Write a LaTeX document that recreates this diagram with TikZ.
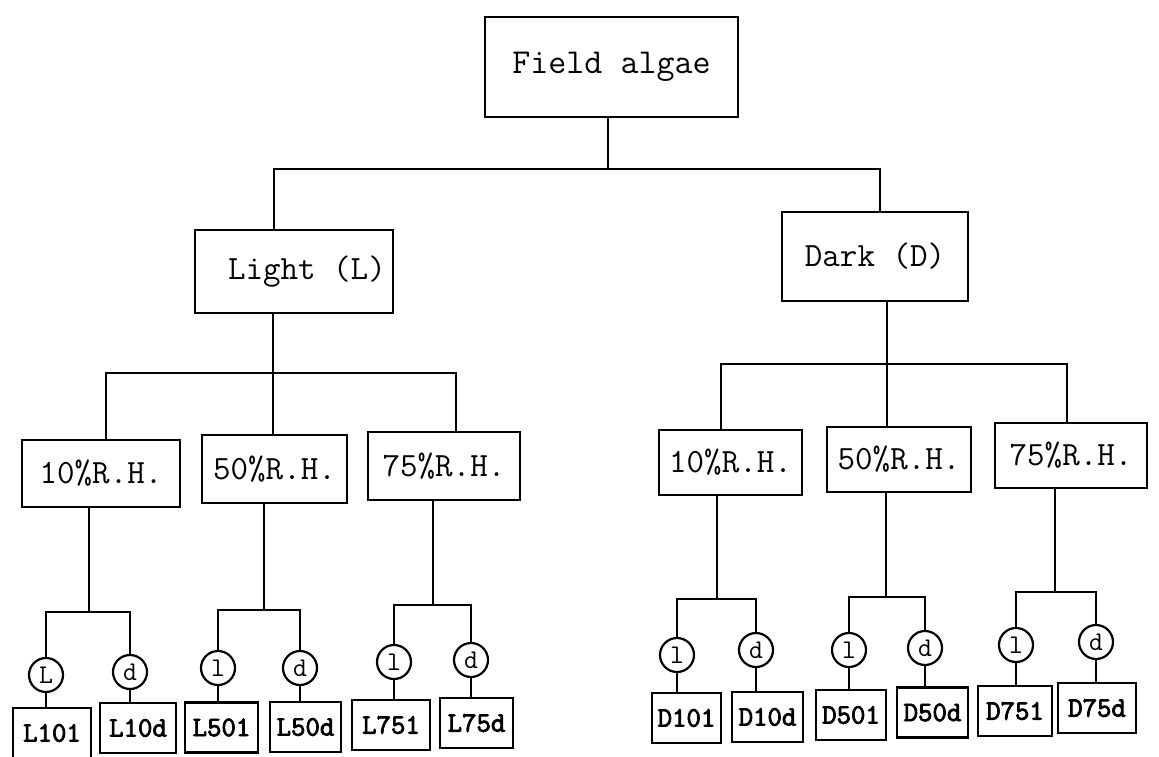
\documentclass[tikz,border=0pt]{standalone}
\usepackage{fontspec}
\newfontfamily\leaffont[FakeBold=3]{Latin Modern Mono}

\tikzset{
    box/.style={draw, line width=2.6pt, inner sep=0pt,
        font=\ttfamily\fontsize{34}{34}\selectfont},
    leaf/.style={draw, line width=2.6pt, inner sep=0pt,
        minimum height=50, font=\leaffont\fontsize{28}{28}\selectfont},
    ring/.style={draw, circle, line width=2.2pt, minimum size=34, inner sep=0pt,
        font=\ttfamily\fontsize{27}{27}\selectfont},
    link/.style={line width=2.2pt}
}

\begin{document}
\begin{tikzpicture}[x=1pt, y=-1pt]
    \useasboundingbox (0,0) rectangle (1159,757);
    \node[box, minimum width=253, minimum height=100, font=\ttfamily\fontsize{35}{35}\selectfont] (fa) at (611.5,67) {Field algae};
    \node[box, minimum width=198, minimum height=83] (light) at (294,271.5) {\hspace{26pt}Light (L)};
    \node[box, minimum width=186, minimum height=89] (dark) at (875,256.5) {Dark (D)};
    \coordinate (b0) at (608,169);
    \coordinate (b1) at (274,169);
    \coordinate (b2) at (880,169);
    \draw[link] (fa.south -| b0) -- (b0);
    \draw[link] (light.north -| b1) -- (b1) -- (b2) -- (dark.north -| b2);

    \node[box, minimum width=158, minimum height=67] (l10) at (101,473.5) {10\%R.H.};
    \node[box, minimum width=145, minimum height=68] (l50) at (274.5,469) {50\%R.H.};
    \node[box, minimum width=152, minimum height=68] (l75) at (444,466) {75\%R.H.};
    \coordinate (b3) at (273,373);
    \coordinate (b4) at (106,373);
    \coordinate (b5) at (456,373);
    \draw[link] (light.south -| b3) -- (b3);
    \draw[link] (l10.north -| b4) -- (b4) -- (b5) -- (l75.north -| b5);
    \draw[link] (l50.north -| b3) -- (b3);

    \node[box, minimum width=143, minimum height=65] (d10) at (730.5,462.5) {10\%R.H.};
    \node[box, minimum width=144, minimum height=65] (d50) at (899,459.5) {50\%R.H.};
    \node[box, minimum width=152, minimum height=65] (d75) at (1071,455.5) {75\%R.H.};
    \coordinate (b6) at (887,364);
    \coordinate (b7) at (721,364);
    \coordinate (b8) at (1067,364);
    \draw[link] (dark.south -| b6) -- (b6);
    \draw[link] (d10.north -| b7) -- (b7) -- (b8) -- (d75.north -| b8);
    \draw[link] (d50.north -| b6) -- (b6);

    \node[ring] (l10l) at (46,675) {L};
    \node[ring] (l10d) at (130,672) {d};
    \node[ring] (l50l) at (218,668) {l};
    \node[ring] (l50d) at (300,668) {d};
    \node[ring] (l75l) at (394,662) {l};
    \node[ring] (l75d) at (471,660) {d};
    \node[ring] (d10l) at (677,655) {l};
    \node[ring] (d10d) at (756,650) {d};
    \node[ring] (d50l) at (849,650) {l};
    \node[ring] (d50d) at (925,648) {d};
    \node[ring] (d75l) at (1016,645) {l};
    \node[ring] (d75d) at (1096,642) {d};

    \coordinate (j1) at (89,612);
    \coordinate (j2) at (264,610);
    \coordinate (j3) at (433,605);
    \coordinate (j4) at (717,599);
    \coordinate (j5) at (886,597);
    \coordinate (j6) at (1055,592);
    \draw[link] (l10.south -| j1) -- (j1);
    \draw[link] (l10l.north) |- (j1) -| (l10d.north);
    \draw[link] (l50.south -| j2) -- (j2);
    \draw[link] (l50l.north) |- (j2) -| (l50d.north);
    \draw[link] (l75.south -| j3) -- (j3);
    \draw[link] (l75l.north) |- (j3) -| (l75d.north);
    \draw[link] (d10.south -| j4) -- (j4);
    \draw[link] (d10l.north) |- (j4) -| (d10d.north);
    \draw[link] (d50.south -| j5) -- (j5);
    \draw[link] (d50l.north) |- (j5) -| (d50d.north);
    \draw[link] (d75.south -| j6) -- (j6);
    \draw[link] (d75l.north) |- (j6) -| (d75d.north);

    \node[leaf, minimum width=78] (L10l) at (52,733) {L101};
    \node[leaf, minimum width=76] (L10d) at (138,728) {L10d};
    \node[leaf, minimum width=73] (L50l) at (221.5,727.5) {L501};
    \node[leaf, minimum width=71] (L50d) at (305.5,727) {L50d};
    \node[leaf, minimum width=78] (L75l) at (391,725) {L751};
    \node[leaf, minimum width=73] (L75d) at (476.5,723) {L75d};
    \node[leaf, minimum width=69] (D10l) at (686.5,718) {D101};
    \node[leaf, minimum width=71] (D10d) at (767.5,717) {D10d};
    \node[leaf, minimum width=70] (D50l) at (851,715) {D501};
    \node[leaf, minimum width=71] (D50d) at (932.5,712.5) {D50d};
    \node[leaf, minimum width=74] (D75l) at (1015,711) {D751};
    \node[leaf, minimum width=78] (D75d) at (1097,708) {D75d};

    \draw[link] (l10l.south) -- (l10l.south |- L10l.north);
    \draw[link] (l10d.south) -- (l10d.south |- L10d.north);
    \draw[link] (l50l.south) -- (l50l.south |- L50l.north);
    \draw[link] (l50d.south) -- (l50d.south |- L50d.north);
    \draw[link] (l75l.south) -- (l75l.south |- L75l.north);
    \draw[link] (l75d.south) -- (l75d.south |- L75d.north);
    \draw[link] (d10l.south) -- (d10l.south |- D10l.north);
    \draw[link] (d10d.south) -- (d10d.south |- D10d.north);
    \draw[link] (d50l.south) -- (d50l.south |- D50l.north);
    \draw[link] (d50d.south) -- (d50d.south |- D50d.north);
    \draw[link] (d75l.south) -- (d75l.south |- D75l.north);
    \draw[link] (d75d.south) -- (d75d.south |- D75d.north);
\end{tikzpicture}
\end{document}
